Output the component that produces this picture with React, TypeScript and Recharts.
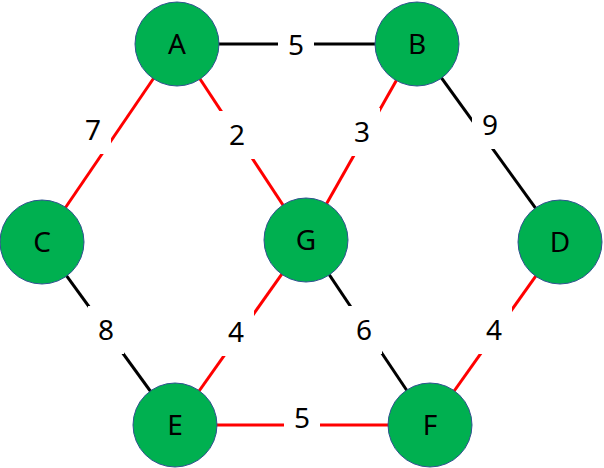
import { ScatterChart, Scatter, XAxis, YAxis } from 'recharts'

const nodeNames = ['A', 'B', 'C', 'G', 'D', 'E', 'F']
const nodeX = [177, 417, 42, 306, 560, 175, 430]
const nodeY = [44, 44, 242, 240, 242, 425, 425]

const edgeFrom = ['A', 'A', 'A', 'B', 'B', 'C', 'G', 'G', 'D', 'E']
const edgeTo = ['B', 'C', 'G', 'G', 'D', 'E', 'E', 'F', 'F', 'F']
const edgeWeights = [5, 7, 2, 3, 9, 8, 4, 6, 4, 5]
const edgeColors = ['#000', '#f00', '#f00', '#f00', '#000', '#000', '#f00', '#000', '#f00', '#f00']
const labelX = [296, 93, 237, 362, 490, 106, 236, 364, 494, 302]
const labelY = [45, 130, 135, 132, 125, 330, 332, 330, 330, 418]

const nodes = nodeNames.map((name, i) => ({ name, x: nodeX[i], y: nodeY[i] }))
const nodeAt = (n: string) => nodes[nodeNames.indexOf(n)]
const labels = edgeWeights.map((w, i) => ({ w, x: labelX[i], y: labelY[i] }))

const NodeShape = (p: any) => (
  <g>
    <circle cx={p.cx} cy={p.cy} r={42} fill="#00B050" stroke="#2F528F" strokeWidth={1} />
    <text x={p.cx} y={p.cy} dy={10} textAnchor="middle" fontSize={28} fill="#000" fontFamily="Noto Sans">
      {p.payload.name}
    </text>
  </g>
)

const LabelShape = (p: any) => (
  <g>
    <rect x={p.cx - 18} y={p.cy - 24} width={36} height={48} fill="#fff" />
    <text x={p.cx} y={p.cy} dy={10} textAnchor="middle" fontSize={28} fill="#000" fontFamily="Noto Sans">
      {p.payload.w}
    </text>
  </g>
)

export default function App() {
  return (
    <div style={{ position: 'absolute', left: 0, top: 0, background: '#fff' }}>
      <ScatterChart width={604} height={468} margin={{ top: 0, right: 0, bottom: 0, left: 0 }}>
        <XAxis type="number" dataKey="x" domain={[0, 604]} hide />
        <YAxis type="number" dataKey="y" domain={[0, 468]} reversed hide />
        {edgeFrom.map((f, i) => (
          <Scatter
            key={'e' + i}
            data={[nodeAt(f), nodeAt(edgeTo[i])]}
            line={{ stroke: edgeColors[i], strokeWidth: 3 }}
            shape={() => <g />}
            isAnimationActive={false}
          />
        ))}
        <Scatter data={labels} shape={LabelShape} isAnimationActive={false} />
        <Scatter data={nodes} shape={NodeShape} isAnimationActive={false} />
      </ScatterChart>
    </div>
  )
}
